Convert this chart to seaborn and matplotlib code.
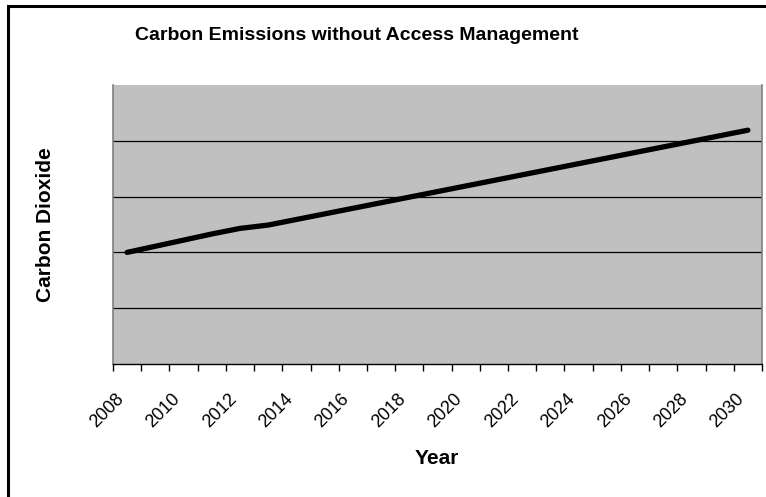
import matplotlib
matplotlib.use("Agg")
import matplotlib.pyplot as plt
import matplotlib.transforms as mtransforms
from matplotlib.patches import Rectangle
import seaborn as sns
import pandas as pd
import numpy as np

years = list(range(2008, 2031))
co2 = [2.00, 2.11, 2.22, 2.33, 2.43, 2.49, 2.59, 2.69, 2.79, 2.89, 2.99,
       3.09, 3.19, 3.29, 3.39, 3.49, 3.59, 3.69, 3.79, 3.89, 3.99, 4.09, 4.19]
tick_labels = [str(y) for y in years[::2]]

sns.set_theme(style="white")
plt.rcParams["font.family"] = ["Liberation Sans", "DejaVu Sans"]
plt.rcParams["text.color"] = "black"
plt.rcParams["xtick.color"] = "black"
plt.rcParams["ytick.color"] = "black"
plt.rcParams["axes.labelcolor"] = "black"

df = pd.DataFrame({"pos": np.arange(len(years)), "co2": co2})

fig = plt.figure(figsize=(7.66, 4.97), dpi=100)
ax = fig.add_axes([113 / 766, 1 - 364 / 497, (762 - 113) / 766, (364 - 85) / 497])
ax.set_facecolor("#C0C0C0")

sns.lineplot(data=df, x="pos", y="co2", ax=ax, color="black", linewidth=3.8,
             solid_capstyle="round", zorder=3)

ax.set_xlim(-0.5, len(years) - 0.5)
ax.set_ylim(0, 5)
ax.set_yticks([1, 2, 3, 4])
ax.set_yticklabels([])
ax.tick_params(axis="y", length=0)
ax.grid(axis="y", color="black", linewidth=0.9)
ax.set_axisbelow(True)

# category boundary tick marks, labels on every other year
ax.set_xticks(np.arange(-0.5, len(years)), minor=True)
ax.set_xticks(np.arange(0, len(years), 2))
ax.set_xticklabels(tick_labels, rotation=45, ha="right", va="top",
                   rotation_mode="anchor", fontsize=13, color="black")
ax.tick_params(axis="x", which="major", length=0, pad=19)
ax.tick_params(axis="x", which="minor", length=5, width=1, color="black",
               direction="out", bottom=True)
shift = mtransforms.ScaledTranslation(-12 / 100, 0, fig.dpi_scale_trans)
for lbl in ax.get_xticklabels():
    lbl.set_transform(lbl.get_transform() + shift)

for side in ["left", "right", "top"]:
    ax.spines[side].set_color("#808080")
    ax.spines[side].set_linewidth(1.2)
ax.spines["top"].set_visible(False)
ax.spines["bottom"].set_color("black")
ax.spines["bottom"].set_linewidth(1.0)

ax.set_xlabel("")
ax.set_ylabel("")
fig.text(357 / 766, 1 - 35 / 497, "Carbon Emissions without Access Management",
         ha="center", va="center", fontsize=14, fontweight="bold", color="black")
fig.text(46 / 766, 1 - 225 / 497, "Carbon Dioxide", rotation=90,
         ha="center", va="center", fontsize=15, fontweight="bold", color="black")
fig.text(437 / 766, 1 - 459 / 497, "Year", ha="center", va="center",
         fontsize=15, fontweight="bold", color="black")

# chart-area border
fig.patches.append(Rectangle((7.5 / 766, -0.1), 1.2, 1 - 5.5 / 497 + 0.1,
                             transform=fig.transFigure, fill=False,
                             edgecolor="black", linewidth=2.2))

fig.savefig("out.png", dpi=100)
